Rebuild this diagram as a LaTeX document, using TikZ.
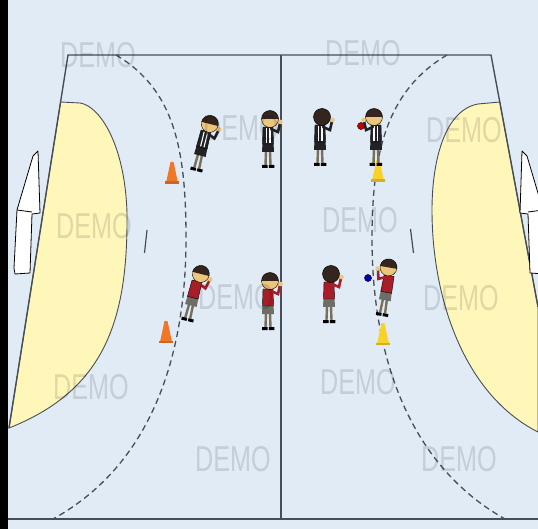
\documentclass[tikz,border=0pt]{standalone}
\usepackage{fontspec}
\setmainfont{Liberation Sans}

\definecolor{floor}{RGB}{225,235,245}
\definecolor{area}{RGB}{255,246,186}
\definecolor{courtline}{RGB}{72,78,86}
\definecolor{skin}{RGB}{236,198,122}
\definecolor{hair}{RGB}{52,38,30}
\definecolor{legc}{RGB}{120,112,92}
\definecolor{redshirt}{RGB}{168,30,40}
\definecolor{darkshirt}{RGB}{34,34,38}
\definecolor{greyshorts}{RGB}{110,110,104}
\definecolor{orangecone}{RGB}{240,118,40}
\definecolor{yellowcone}{RGB}{248,210,40}

\tikzset{
	line/.style={courtline, line width=1.4},
	dashline/.style={courtline, line width=1.3, dash pattern=on 6 off 4},
	demo/.style={text=black, text opacity=0.12, font=\fontsize{36}{36}\selectfont, xscale=0.7, inner sep=0},
	goalframe/.style={fill=white, draw=black, line width=0.8, line join=round},
	pics/cone/.style={code={
		\fill[#1] (-6,0) -- (-1.5,-21) -- (1.5,-21) -- (6,0) -- cycle;
		\fill[#1!85!black] (-7,-1.5) rectangle (7,1);
	}},
	% shirt, stripe, shorts, head
	pics/player/.style n args={4}{code={
		\draw[legc, line width=2.4] (-2,-17) -- (-2.5,-3) (2,-17) -- (2.5,-3);
		\fill[black] (-6,-3) rectangle (-0.5,0) (0.8,-3) rectangle (6.3,0);
		\fill[#3] (-5.5,-25) -- (5.5,-25) -- (6,-16) -- (-6,-16) -- cycle;
		\filldraw[fill=#1, draw=black, line width=0.4] (-5,-41) -- (5,-41) -- (5.5,-24) -- (-5.5,-24) -- cycle;
		\draw[#2, line width=1.1] (-1.5,-40) -- (-1.5,-25) (2,-40) -- (2,-25);
		\draw[#1, line width=2.6, line cap=round] (3,-39) -- (10,-36) -- (12,-45);
		\fill[skin] (12.5,-46) circle (2.3);
		\fill[#4] (2,-49) circle (8.5);
		\fill[hair] (-6.5,-49) arc[start angle=180, end angle=360, radius=8.5] -- cycle;
		\draw[black, line width=0.4] (2,-49) circle (8.5);
	}}
}

\begin{document}
\begin{tikzpicture}[x=1pt,y=-1pt]
	\useasboundingbox (0,0) rectangle (538,529);
	\fill[floor] (0,0) rectangle (538,529);
	\fill[black] (0,0) rectangle (8,529);

	% goal areas
	\filldraw[fill=area, draw=courtline, line width=0.9] (60.6,102) -- (80,103)
		.. controls (100,106) and (125,145) .. (127,213)
		.. controls (128,320) and (105,390) .. (9,428) -- cycle;
	\filldraw[fill=area, draw=courtline, line width=0.9] (499.8,102) -- (478,104)
		.. controls (445,110) and (432,160) .. (432,210)
		.. controls (432,300) and (465,395) .. (538,432) -- (538,307) -- cycle;

	% court
	\coordinate (tl) at (68,55);
	\coordinate (tr) at (491,55);
	\coordinate (tm) at (281,55);
	\coordinate (bm) at (281,519);
	\draw[line] (9,428) -- (tl) -- (tr) -- (538,307);
	\draw[line] (tm) -- (bm);
	\draw[line] (8,519) -- (538,519);

	% goals
	\filldraw[goalframe] (38,151) -- (40,213) -- (32,214) -- (30,273) -- (15,274) -- (14,268) -- (17,210) -- (33,156) -- cycle;
	\draw[black, line width=0.8] (17,210) -- (32,212);
	\begin{scope}[xshift=560pt, xscale=-1]
		\filldraw[goalframe] (38,151) -- (40,213) -- (32,214) -- (30,273) -- (15,274) -- (14,268) -- (17,210) -- (33,156) -- cycle;
		\draw[black, line width=0.8] (17,210) -- (32,212);
	\end{scope}

	% free throw lines
	\draw[dashline] (116,55) .. controls (175,90) and (186,150) .. (186,239)
		.. controls (186,340) and (160,460) .. (53,519);
	\draw[dashline] (447,55) .. controls (388,90) and (372,150) .. (372,239)
		.. controls (372,340) and (400,460) .. (505,519);
	% 7m marks
	\draw[courtline, line width=1.2] (147,230) -- (144.5,253);
	\draw[courtline, line width=1.2] (410.5,229) -- (413.5,253);

	% cones
	\pic at (172,183) {cone=orangecone};
	\pic at (166,342) {cone=orangecone};
	\pic at (378,181) {cone=yellowcone};
	\pic at (383,344) {cone=yellowcone};

	% players
	\pic[rotate=-14] at (196,171) {player={darkshirt}{white}{darkshirt}{skin}};
	\pic at (268,168) {player={darkshirt}{white}{darkshirt}{skin}};
	\pic at (320,166) {player={darkshirt}{white}{darkshirt}{hair}};
	\pic[xscale=-1] at (376,166) {player={darkshirt}{white}{darkshirt}{skin}};
	\pic[rotate=-14] at (187,321) {player={redshirt}{redshirt}{greyshorts}{skin}};
	\pic at (268,330) {player={redshirt}{redshirt}{greyshorts}{skin}};
	\pic at (329,323) {player={redshirt}{redshirt}{greyshorts}{hair}};
	\pic[xscale=-1, rotate=10] at (382,316) {player={redshirt}{redshirt}{greyshorts}{skin}};

	% balls
	\filldraw[fill=red!75!black, draw=black, line width=0.3] (361,126) circle (3.6);
	\filldraw[fill=blue!70!black, draw=black, line width=0.3] (368,278) circle (3.6);

	% watermark
	\foreach \x/\y [count=\i] in {98/55, 363/53, 241/128, 464/130, 94/226, 360/220,
		236/297, 461/298, 91/387, 358/382, 233/459, 459/459}
		\node[demo] (demo\i) at (\x,\y) {DEMO};
\end{tikzpicture}
\end{document}
